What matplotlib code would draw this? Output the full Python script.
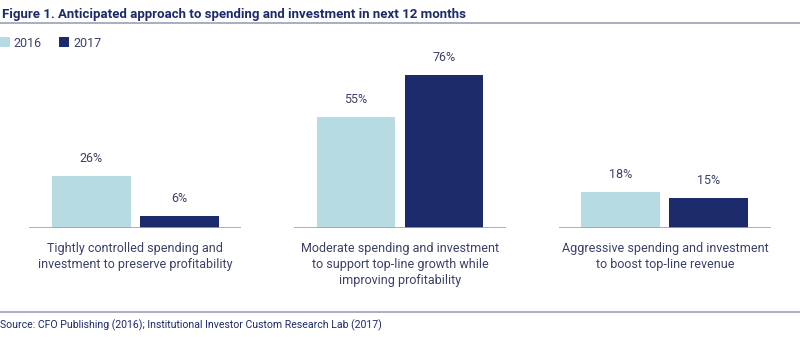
import matplotlib.pyplot as plt
import numpy as np

plt.rcParams['font.family'] = ['Roboto', 'DejaVu Sans']

categories = [
    'Tightly controlled spending and\ninvestment to preserve profitability',
    'Moderate spending and investment\nto support top-line growth while\nimproving profitability',
    'Aggressive spending and investment\nto boost top-line revenue',
]
years = ['2016', '2017']
values_2016 = [26, 55, 18]
values_2017 = [6, 76, 15]

title = 'Figure 1. Anticipated approach to spending and investment in next 12 months'
source = 'Source: CFO Publishing (2016); Institutional Investor Custom Research Lab (2017)'

light = '#b6dbe3'
navy = '#1b2a6b'
text_col = '#3b4068'
rule_col = '#9aa0b8'

fig = plt.figure(figsize=(8, 3.37), dpi=100)
ax = fig.add_axes([0, 0.3234, 1, 0.537])

x = np.arange(len(categories))
w = 0.298
off = 0.166
b1 = ax.bar(x - off, values_2016, w, color=light, label=years[0])
b2 = ax.bar(x + off, values_2017, w, color=navy, label=years[1])

for bars in (b1, b2):
    for rect in bars:
        h = rect.get_height()
        ax.annotate(f'{h:.0f}%', (rect.get_x() + rect.get_width() / 2, h),
                    xytext=(0, 8), textcoords='offset points',
                    ha='center', va='bottom', fontsize=9, color=text_col)

for i, cat in enumerate(categories):
    ax.plot([i - 0.40, i + 0.40], [0, 0], color=rule_col, lw=1.2, solid_capstyle='butt')
    ax.annotate(cat, (i, 0), xytext=(0, -10), textcoords='offset points',
                ha='center', va='top', fontsize=9, color=text_col,
                linespacing=1.3)

ax.set_xlim(-0.51, 2.51)
ax.set_ylim(0, 90)
ax.axis('off')

fig.text(0.003, 0.975, title, fontsize=9.5, fontweight='bold', color=navy,
         ha='left', va='top')
fig.add_artist(plt.Line2D([0, 1], [0.932, 0.932], color=rule_col, lw=1.2))
fig.add_artist(plt.Line2D([0, 1], [0.074, 0.074], color=rule_col, lw=1.2))
fig.text(0.0, 0.018, source, fontsize=7.6, color=navy, ha='left', va='bottom')

fig.legend(handles=[b1, b2], loc='upper left', bbox_to_anchor=(-0.014, 0.925),
           ncol=2, frameon=False, fontsize=9, handlelength=0.8, handleheight=0.8,
           handletextpad=0.3, columnspacing=1.4, labelcolor=text_col)

fig.savefig('out.png', dpi=100)
